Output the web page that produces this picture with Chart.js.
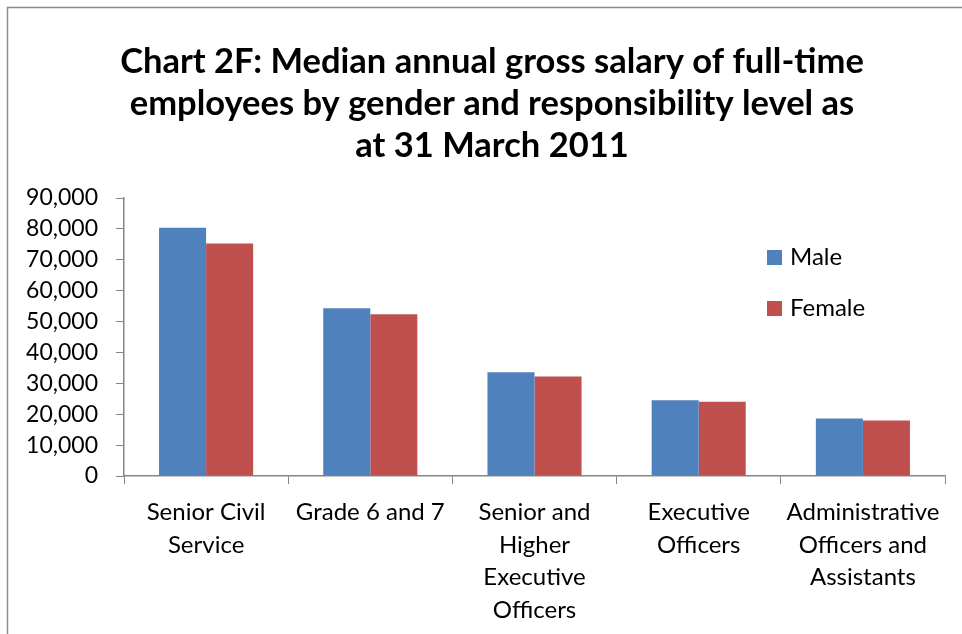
<!DOCTYPE html>
<html>
<head>
<meta charset="utf-8">
<script src="https://cdn.jsdelivr.net/npm/chart.js@4.4.1/dist/chart.umd.min.js"></script>
<style>
  html, body { margin: 0; padding: 0; background: #fff; }
  #wrap { width: 962px; height: 634px; position: relative; }
</style>
</head>
<body>
<div id="wrap"><canvas id="c" width="962" height="634"></canvas></div>
<script>
const categories = [
  ['Senior Civil', 'Service'],
  ['Grade 6 and 7'],
  ['Senior and', 'Higher', 'Executive', 'Officers'],
  ['Executive', 'Officers'],
  ['Administrative', 'Officers and', 'Assistants']
];
const maleValues = [80400, 54300, 33600, 24500, 18600];
const femaleValues = [75300, 52400, 32200, 24000, 18000];
const yTicks = [0, 10000, 20000, 30000, 40000, 50000, 60000, 70000, 80000, 90000];
const titleLines = [
  'Chart 2F: Median annual gross salary of full-time',
  'employees by gender and responsibility level as',
  'at 31 March 2011'
];

const FONT = 'Lato, "Open Sans", sans-serif';
const AXIS = '#868686';

// title sits centred on the whole Excel frame, not just the plot
const frameTitle = {
  id: 'frameTitle',
  afterDraw(chart) {
    const ctx = chart.ctx;
    ctx.save();
    ctx.font = 'bold 34.5px ' + FONT;
    ctx.fillStyle = '#000';
    ctx.textAlign = 'center';
    ctx.textBaseline = 'middle';
    titleLines.forEach((t, i) => ctx.fillText(t, 492, 62 + i * 42));
    ctx.restore();
  }
};

// legend floats inside the plot, like the Excel original
const floatLegend = {
  id: 'floatLegend',
  afterDraw(chart) {
    const ctx = chart.ctx;
    ctx.save();
    ctx.font = '24px ' + FONT;
    ctx.textBaseline = 'middle';
    chart.data.datasets.forEach((ds, i) => {
      const y = 257 + i * 51;
      ctx.fillStyle = ds.backgroundColor;
      ctx.fillRect(767, y - 7, 15, 15);
      ctx.fillStyle = '#000';
      ctx.fillText(ds.label, 790, y);
    });
    ctx.restore();
  }
};

const frame = {
  id: 'frame',
  afterDraw(chart) {
    const ctx = chart.ctx;
    ctx.save();
    ctx.strokeStyle = '#8c8c8c';
    ctx.lineWidth = 1.5;
    ctx.strokeRect(7.5, 7.5, 1000, 700);
    ctx.restore();
  }
};

new Chart(document.getElementById('c').getContext('2d'), {
  type: 'bar',
  data: {
    labels: categories,
    datasets: [
      { label: 'Male', data: maleValues, backgroundColor: '#4F81BD' },
      { label: 'Female', data: femaleValues, backgroundColor: '#C0504D' }
    ]
  },
  options: {
    responsive: false,
    animation: false,
    layout: { padding: { left: 0, right: 17, top: 198, bottom: 0 } },
    datasets: { bar: { categoryPercentage: 0.573, barPercentage: 1.0 } },
    plugins: {
      legend: { display: false },
      tooltip: { enabled: false },
      title: { display: false }
    },
    scales: {
      x: {
        grid: { drawOnChartArea: false, color: AXIS, tickLength: 8, offset: true },
        border: { color: AXIS, width: 1.5 },
        ticks: { color: '#000', font: { family: FONT, size: 24, lineHeight: 1.36 }, padding: 12, maxRotation: 0, autoSkip: false },
        afterFit(scale) { scale.height = 158; }
      },
      y: {
        min: 0,
        max: 90000,
        afterBuildTicks(scale) { scale.ticks = yTicks.map(v => ({ value: v })); },
        grid: { drawOnChartArea: false, color: AXIS, tickLength: 8 },
        border: { color: AXIS, width: 1.5 },
        ticks: {
          color: '#000',
          font: { family: FONT, size: 23 },
          padding: 18,
          callback: v => v.toLocaleString('en-US')
        },
        afterFit(scale) { scale.width = 124; }
      }
    }
  },
  plugins: [frameTitle, floatLegend, frame]
});
</script>
</body>
</html>
